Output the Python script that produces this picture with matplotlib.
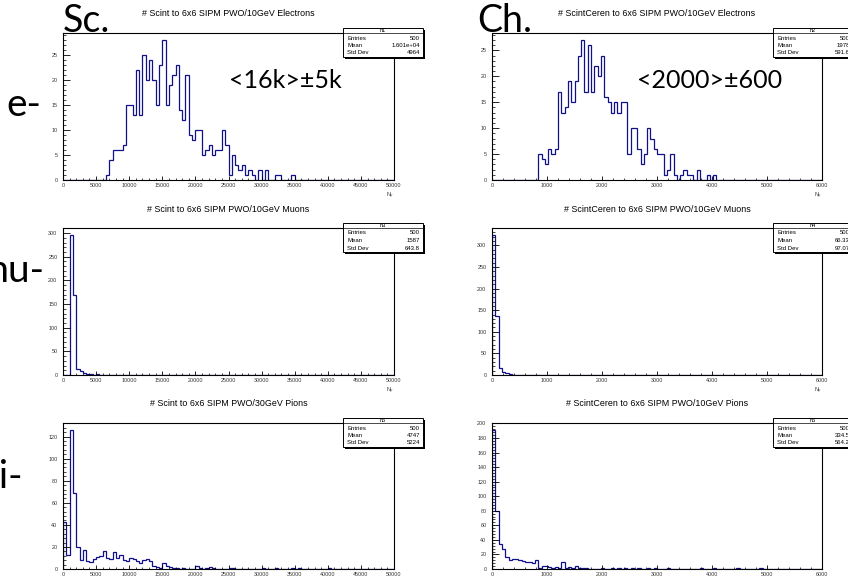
import numpy as np
import matplotlib
matplotlib.use("Agg")
import matplotlib.pyplot as plt
from matplotlib.patches import Rectangle
from matplotlib.lines import Line2D
from matplotlib.ticker import MultipleLocator

W, H = 848, 579
N_BINS = 100

# ----- data (counts per bin, 100 bins each) -----
sc_range = (0, 50000)
ch_range = (0, 6000)

sc_e = [0] * 13 + [1, 4, 6, 6, 6, 7, 15, 15, 13, 22, 13, 25, 20, 24, 20, 15,
                   23, 28, 15, 19, 21, 23, 14, 12, 21, 9, 8, 10, 10, 5, 6,
                   7, 5, 6, 6, 10, 7, 1, 5, 3, 2, 3, 1, 2, 1, 0, 2, 0, 2, 0,
                   0, 1, 1, 0, 0, 0, 1]
ch_e = [0] * 14 + [5, 4, 3, 6, 5, 6, 17, 13, 14, 19, 15, 19, 24, 27, 17, 26,
                   17, 22, 20, 24, 16, 15, 13, 15, 13, 15, 15, 5, 10, 10, 6,
                   3, 5, 10, 8, 6, 5, 5, 1, 2, 5, 1, 0, 1, 2, 1, 1, 0, 2, 0,
                   0, 1, 0, 1]
sc_mu = [0, 0, 296, 170, 12, 8, 4, 3, 2, 1, 2, 1, 1]
ch_mu = [324, 137, 17, 7, 4, 2, 1, 1, 0, 1, 0, 0, 1, 0, 1, 0, 0, 0, 0, 0, 1]
sc_pi = [43, 13, 126, 69, 20, 8, 17, 7, 6, 9,
         11, 12, 16, 10, 9, 15, 10, 13, 8, 7,
         10, 9, 7, 5, 8, 9, 7, 3, 2, 1,
         5, 3, 2, 1, 1, 0, 1, 0, 0, 0,
         3, 1, 0, 1, 2, 1, 0, 0, 0, 0,
         1, 1, 0, 0, 0, 0, 0, 0, 0, 0,
         1, 0, 0, 0, 1, 0, 0, 0, 0, 1,
         0, 1, 0, 0, 0, 0, 0, 0, 0, 0,
         1]
ch_pi = [191, 80, 35, 28, 16, 13, 14, 14, 12, 11,
         10, 9, 8, 12, 1, 4, 4, 3, 2, 3,
         1, 9, 2, 3, 1, 4, 2, 2, 1, 0,
         0, 0, 0, 1, 0, 0, 1, 0, 1, 0,
         1, 0, 1, 0, 1, 0, 0, 1, 0, 1,
         0, 0, 0, 1, 0, 0, 0, 0, 0, 0,
         0, 0, 0, 1, 0, 0, 0, 1, 0, 0,
         0, 0, 0, 0, 1, 0, 0, 0, 0, 0,
         0, 1]

titles = ["# Scint to 6x6 SIPM PWO/10GeV Electrons",
          "# ScintCeren to 6x6 SIPM PWO/10GeV Electrons",
          "# Scint to 6x6 SIPM PWO/10GeV Muons",
          "# ScintCeren to 6x6 SIPM PWO/10GeV Muons",
          "# Scint to 6x6 SIPM PWO/30GeV Pions",
          "# ScintCeren to 6x6 SIPM PWO/10GeV Pions"]
hist_names = ["h1", "h2", "h3", "h4", "h5", "h6"]
entries = ["500"] * 6
means = ["1.601e+04", "1978", "1587", "66.33", "4747", "334.5"]
std_devs = ["4964", "591.6", "643.8", "97.07", "5224", "564.2"]

row_labels = ["e-", "mu-", "pi-"]
col_labels = ["Sc.", "Ch."]
notes = ["<16k>\u00b15k", "<2000>\u00b1600"]


def pad(counts):
    return np.array(counts + [0] * (N_BINS - len(counts)), dtype=float)


def fxy(x, y):
    return x / W, 1 - y / H


plt.rcParams['font.family'] = ['Liberation Sans', 'DejaVu Sans']
fig = plt.figure(figsize=(W / 100, H / 100), dpi=100)

# pixel frames of the six pads: (x0, x1) per column, (y_top, y_bottom) per row
cols_px = [(63, 394), (492, 822)]
rows_px = [(33, 180), (228, 375), (423, 569)]
data = [sc_e, ch_e, sc_mu, ch_mu, sc_pi, ch_pi]
ytick_step = [5, 5, 50, 50, 20, 20]

for k, counts in enumerate(data):
    r, c = divmod(k, 2)
    x0, x1 = cols_px[c]
    yt, yb = rows_px[r]
    ax = fig.add_axes([x0 / W, 1 - yb / H, (x1 - x0) / W, (yb - yt) / H])
    rng = sc_range if c == 0 else ch_range
    edges = np.linspace(rng[0], rng[1], N_BINS + 1)
    vals = pad(counts)
    ax.stairs(vals, edges, color='#10108a', lw=0.9)
    ax.set_xlim(*rng)
    ax.set_ylim(0, 1.05 * vals.max())

    ax.xaxis.set_major_locator(MultipleLocator(rng[1] / (10 if c == 0 else 6)))
    ax.xaxis.set_minor_locator(MultipleLocator(rng[1] / (50 if c == 0 else 30)))
    ax.yaxis.set_major_locator(MultipleLocator(ytick_step[k]))
    ax.yaxis.set_minor_locator(MultipleLocator(ytick_step[k] / 5))
    ax.tick_params(axis='x', which='major', direction='in', length=3.2,
                   width=0.6, labelsize=3.9, pad=2, labelcolor='#333333')
    ax.tick_params(axis='x', which='minor', direction='in', length=1.6, width=0.5)
    ax.tick_params(axis='y', which='major', direction='in', length=5,
                   width=0.6, labelsize=3.9, pad=4, labelcolor='#333333')
    ax.tick_params(axis='y', which='minor', direction='in', length=2.5, width=0.5)
    for s in ax.spines.values():
        s.set_linewidth(0.8)
    ax.text(1.0, -0.075, "N$_{\\gamma}$", transform=ax.transAxes,
            ha='right', va='top', fontsize=3.9, color='#333333')

    # title of the pad
    tx, ty = fxy((x0 + x1) / 2, yt - 19)
    fig.text(tx, ty, titles[k], ha='center', va='center', fontsize=6.4)

    # stats box
    bx = x0 + 280 if c == 0 else x0 + 281
    by = yt - 5
    bw, bh = 80, 29
    fig.add_artist(Rectangle(fxy(bx + 1.5, by + bh + 1.5), bw / W, bh / H,
                             transform=fig.transFigure, facecolor='black',
                             edgecolor='none', zorder=5))
    fig.add_artist(Rectangle(fxy(bx, by + bh), bw / W, bh / H,
                             transform=fig.transFigure, facecolor='white',
                             edgecolor='black', lw=0.7, zorder=6))
    lx0, ly = fxy(bx, by + 4.5)
    lx1, _ = fxy(bx + bw, by + 4.5)
    fig.add_artist(Line2D([lx0, lx1], [ly, ly], transform=fig.transFigure,
                          color='black', lw=0.5, zorder=7))
    hx, hy = fxy(bx + bw / 2, by + 2.3)
    fig.text(hx, hy, hist_names[k], ha='center', va='center', fontsize=4.0, zorder=8)
    for i, (lab, val) in enumerate(zip(["Entries", "Mean", "Std Dev"],
                                       [entries[k], means[k], std_devs[k]])):
        yy = by + 10 + 7.5 * i
        fig.text(*fxy(bx + 4, yy), lab, ha='left', va='center', fontsize=4.3, zorder=8)
        fig.text(*fxy(bx + bw - 3, yy), val, ha='right', va='center', fontsize=4.3, zorder=8)

# big hand-written labels
big = ['Lato', 'DejaVu Sans']
fig.text(*fxy(63, 32), col_labels[0], ha='left', va='baseline', fontsize=27, family=big)
fig.text(*fxy(477, 32), col_labels[1], ha='left', va='baseline', fontsize=27, family=big)
for lab, xr, yb in zip(row_labels, [41, 44, 23], [116, 282, 488]):
    fig.text(*fxy(xr, yb), lab, ha='right', va='baseline', fontsize=28, family=big)
fig.text(*fxy(285, 88), notes[0], ha='center', va='baseline', fontsize=18, family=big)
fig.text(*fxy(710, 88), notes[1], ha='center', va='baseline', fontsize=18, family=big)

fig.savefig("out.png", dpi=100)
